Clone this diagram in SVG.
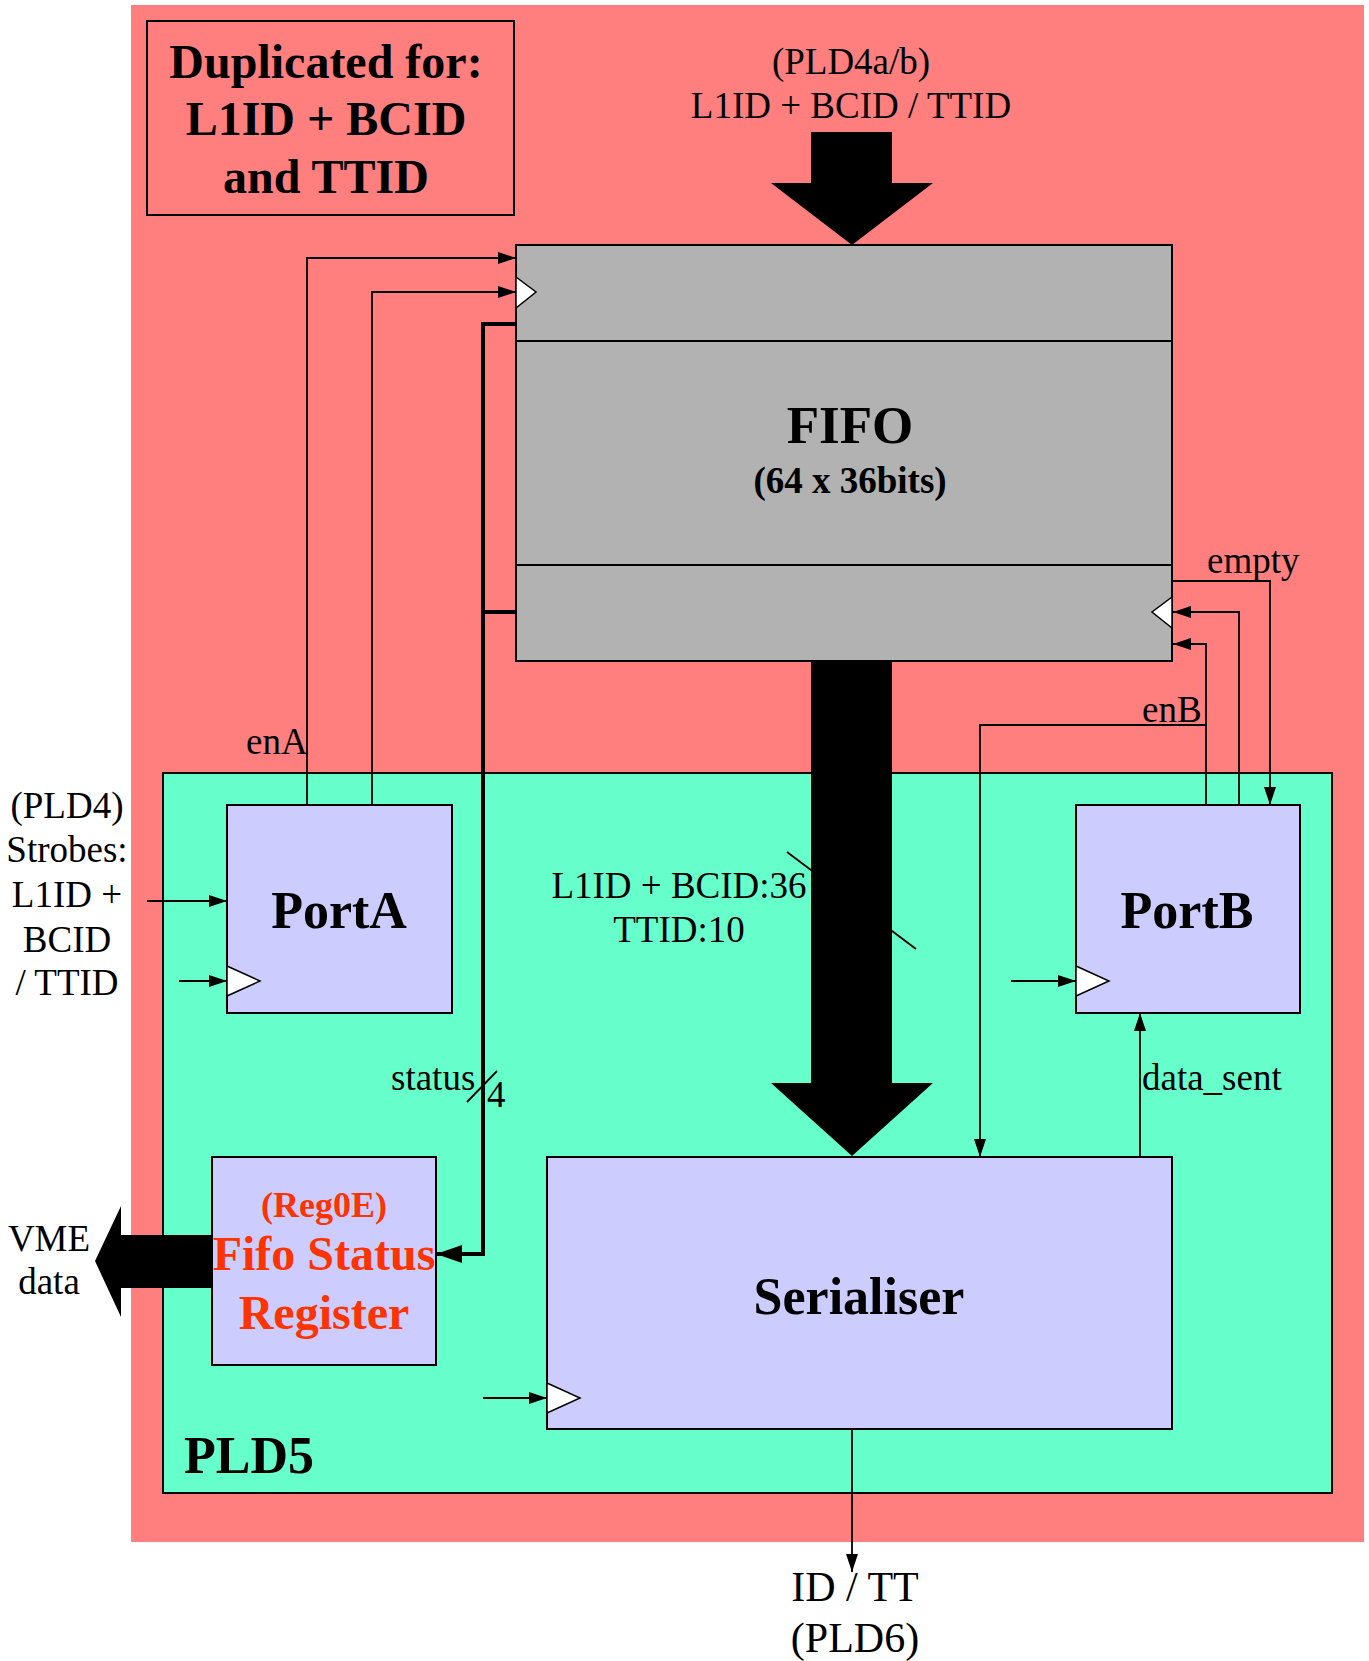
<svg xmlns="http://www.w3.org/2000/svg" width="1369" height="1661" viewBox="0 0 1369 1661">
<defs>
<style>
.t{font-family:"Liberation Serif","Times New Roman",serif;fill:#000}
.n{font-size:37px}
.big{font-size:42px}
.b{font-weight:bold}
.box{stroke:#000;stroke-width:2}
.c{fill:none;stroke:#000;stroke-width:1.8}
.clk{fill:#fff;stroke:#000;stroke-width:1.5}
.red{fill:#ff3300}
</style>
<marker id="ah" markerUnits="userSpaceOnUse" markerWidth="18" markerHeight="12" refX="18" refY="6" orient="auto">
<path d="M0,0 L18,6 L0,12 z" fill="#000"/>
</marker>
<marker id="ahb" markerUnits="userSpaceOnUse" markerWidth="26" markerHeight="18" refX="26" refY="9" orient="auto">
<path d="M0,0 L26,9 L0,18 z" fill="#000"/>
</marker>
</defs>
<rect x="131" y="5" width="1233" height="1537" fill="#ff7f7f"/>
<g id="duplicated">
<rect x="147" y="21" width="367" height="194" class="box" fill="#ff7f7f"/>
<text class="t b" font-size="48" x="326" y="78" text-anchor="middle">Duplicated for:</text>
<text class="t b" font-size="48" x="326" y="135" text-anchor="middle">L1ID + BCID</text>
<text class="t b" font-size="48" x="326" y="193" text-anchor="middle">and TTID</text>
</g>
<g id="pld5">
<rect x="163" y="773" width="1169" height="720" class="box" fill="#66ffcc"/>
<text class="t b" font-size="52" x="184" y="1473">PLD5</text>
</g>
<g id="top-input">
<text class="t n" x="851" y="74" text-anchor="middle">(PLD4a/b)</text>
<text class="t n" x="851" y="118" text-anchor="middle">L1ID + BCID / TTID</text>
<polygon points="811,132 892,132 892,183 933,183 852,245 771,183 811,183" fill="#000"/>
</g>
<g id="fifo">
<rect x="516" y="245" width="656" height="416" class="box" fill="#b2b2b2"/>
<line x1="516" y1="341" x2="1172" y2="341" stroke="#000" stroke-width="2"/>
<line x1="516" y1="565" x2="1172" y2="565" stroke="#000" stroke-width="2"/>
<text class="t b" font-size="53" x="850" y="443" text-anchor="middle">FIFO</text>
<text class="t b" font-size="37" x="850" y="493" text-anchor="middle">(64 x 36bits)</text>
<polygon class="clk" points="516,277 536,292 516,308"/>
<polygon class="clk" points="1172,597 1152,612 1172,628"/>
</g>
<g id="portA">
<rect x="227" y="805" width="225" height="208" class="box" fill="#ccccff"/>
<text class="t b" font-size="52" x="339" y="928" text-anchor="middle">PortA</text>
<polygon class="clk" points="227,966 260,981 227,996"/>
</g>
<g id="portB">
<rect x="1076" y="805" width="224" height="208" class="box" fill="#ccccff"/>
<text class="t b" font-size="52" x="1187" y="928" text-anchor="middle">PortB</text>
<polygon class="clk" points="1076,966 1109,981 1076,996"/>
</g>
<g id="status-register">
<rect x="212" y="1157" width="224" height="208" class="box" fill="#ccccff"/>
<text class="t b red" font-size="36" x="324" y="1217" text-anchor="middle">(Reg0E)</text>
<text class="t b red" font-size="48" x="324" y="1270" text-anchor="middle">Fifo Status</text>
<text class="t b red" font-size="48" x="324" y="1329" text-anchor="middle">Register</text>
</g>
<g id="serialiser">
<rect x="547" y="1157" width="625" height="272" class="box" fill="#ccccff"/>
<text class="t b" font-size="52" x="859" y="1314" text-anchor="middle">Serialiser</text>
<polygon class="clk" points="547,1383 580,1398 547,1413"/>
</g>
<g id="connectors">
<line x1="787" y1="852" x2="916" y2="949" stroke="#000" stroke-width="1.8"/>
<polygon points="811,661 892,661 892,1083 933,1083 852,1156 771,1083 811,1083" fill="#000"/>
<text class="t n" x="679" y="898" text-anchor="middle">L1ID + BCID:36</text>
<text class="t n" x="679" y="942" text-anchor="middle">TTID:10</text>
<path class="c" d="M307,805 V258 H516" marker-end="url(#ah)"/>
<path class="c" d="M372,805 V292 H516" marker-end="url(#ah)"/>
<text class="t n" x="246" y="754">enA</text>
<path d="M516,324 H483 V1254 H436" fill="none" stroke="#000" stroke-width="4" marker-end="url(#ahb)"/>
<path d="M483,612 H516" fill="none" stroke="#000" stroke-width="4"/>
<line x1="467" y1="1102" x2="497" y2="1071" stroke="#000" stroke-width="1.8"/>
<text class="t n" x="391" y="1090">status</text>
<text class="t n" x="487" y="1107">4</text>
<path class="c" d="M147,901 H227" marker-end="url(#ah)"/>
<path class="c" d="M179,981 H227" marker-end="url(#ah)"/>
<path class="c" d="M1011,981 H1076" marker-end="url(#ah)"/>
<path class="c" d="M483,1398 H547" marker-end="url(#ah)"/>
<path class="c" d="M1206,805 V644 H1173" marker-end="url(#ah)"/>
<path class="c" d="M1239,805 V612 H1173" marker-end="url(#ah)"/>
<path class="c" d="M1173,581 H1270 V805" marker-end="url(#ah)"/>
<text class="t n" x="1207" y="573">empty</text>
<path class="c" d="M1206,725 H980 V1157" marker-end="url(#ah)"/>
<text class="t n" x="1142" y="722">enB</text>
<path class="c" d="M1140,1157 V1013" marker-end="url(#ah)"/>
<text class="t n" x="1142" y="1090">data_sent</text>
<path class="c" d="M852,1429 V1572" marker-end="url(#ah)"/>
<text class="t big" x="855" y="1601" text-anchor="middle">ID / TT</text>
<text class="t big" x="855" y="1652" text-anchor="middle">(PLD6)</text>
<polygon points="212,1235 121,1235 121,1206 95,1261 121,1317 121,1288 212,1288" fill="#000"/>
<text class="t n" x="49" y="1251" text-anchor="middle">VME</text>
<text class="t n" x="49" y="1294" text-anchor="middle">data</text>
<text class="t n" x="67" y="818" text-anchor="middle">(PLD4)</text>
<text class="t n" x="67" y="862" text-anchor="middle">Strobes:</text>
<text class="t n" x="67" y="907" text-anchor="middle">L1ID +</text>
<text class="t n" x="67" y="952" text-anchor="middle">BCID</text>
<text class="t n" x="67" y="995" text-anchor="middle">/ TTID</text>
</g>
</svg>
